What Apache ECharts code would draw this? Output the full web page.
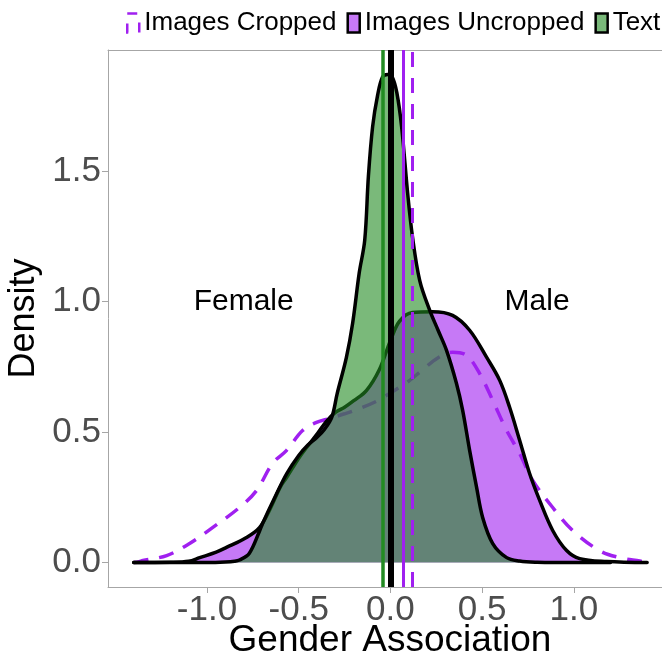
<!DOCTYPE html>
<html>
<head>
<meta charset="utf-8">
<script src="https://cdn.jsdelivr.net/npm/echarts@6/dist/echarts.min.js"></script>
<style>
  html, body { margin: 0; padding: 0; background: #fff; overflow: hidden; }
  #chart { width: 662px; height: 658px; }
</style>
</head>
<body>
<div id="chart"></div>
<script>
// Kernel density estimates of gender association scores, [score, density]
const imagesCropped = [
  [-1.40, 0.000], [-1.37, 0.003], [-1.35, 0.008], [-1.22, 0.027], [-1.095, 0.073],
  [-0.97, 0.134], [-0.823, 0.211], [-0.73, 0.276], [-0.643, 0.38], [-0.566, 0.43],
  [-0.479, 0.506], [-0.403, 0.537], [-0.332, 0.552], [-0.25, 0.57], [-0.168, 0.59],
  [-0.07, 0.62], [0.0, 0.65], [0.09, 0.69], [0.17, 0.735], [0.26, 0.785],
  [0.339, 0.806], [0.415, 0.794], [0.486, 0.725], [0.558, 0.621], [0.634, 0.506],
  [0.705, 0.418], [0.776, 0.315], [0.885, 0.211], [0.994, 0.123], [1.14, 0.046],
  [1.25, 0.019], [1.36, 0.006], [1.41, 0.000]
];
const imagesUncropped = [
  [-1.40, 0.000], [-1.2, 0.001], [-1.1, 0.005], [-1.04, 0.019], [-0.95, 0.040],
  [-0.894, 0.058], [-0.785, 0.096], [-0.714, 0.134], [-0.66, 0.20], [-0.60, 0.29],
  [-0.566, 0.326], [-0.50, 0.40], [-0.457, 0.441], [-0.397, 0.495], [-0.35, 0.54],
  [-0.30, 0.575], [-0.25, 0.595], [-0.20, 0.62], [-0.13, 0.66], [-0.06, 0.74],
  [0.0, 0.85], [0.05, 0.925], [0.12, 0.958], [0.23, 0.961], [0.339, 0.947],
  [0.432, 0.890], [0.525, 0.786], [0.596, 0.698], [0.65, 0.595], [0.705, 0.468],
  [0.759, 0.341], [0.814, 0.238], [0.885, 0.123], [0.961, 0.046], [1.032, 0.015],
  [1.18, 0.004], [1.40, 0.000]
];
const text = [
  [-1.40, 0.000], [-1.0, 0.000], [-0.9, 0.002], [-0.85, 0.005], [-0.823, 0.01],
  [-0.77, 0.035], [-0.714, 0.12], [-0.697, 0.15], [-0.63, 0.25], [-0.566, 0.34],
  [-0.50, 0.41], [-0.45, 0.45], [-0.40, 0.48], [-0.36, 0.51], [-0.32, 0.556],
  [-0.29, 0.648], [-0.24, 0.786], [-0.206, 0.917], [-0.17, 1.11], [-0.14, 1.235],
  [-0.12, 1.48], [-0.097, 1.67], [-0.07, 1.79], [-0.043, 1.86], [-0.015, 1.87],
  [0.01, 1.86], [0.035, 1.80], [0.061, 1.67], [0.094, 1.415], [0.12, 1.25],
  [0.16, 1.08], [0.214, 0.967], [0.26, 0.89], [0.306, 0.813], [0.36, 0.687],
  [0.394, 0.583], [0.432, 0.43], [0.47, 0.288], [0.503, 0.173], [0.558, 0.073],
  [0.634, 0.019], [0.705, 0.006], [0.8, 0.001], [0.9, 0.000], [1.2, 0.000]
];

// Mean scores: reference line at zero plus the group means
const meanLines = [
  { name: 'zero', x: 0.0, color: '#000000', width: 6, type: 'solid' },
  { name: 'Text', x: -0.037, color: '#228B22', width: 3.5, type: 'solid' },
  { name: 'Images Uncropped', x: 0.068, color: '#A020F0', width: 3, type: 'solid' },
  { name: 'Images Cropped', x: 0.121, color: '#A020F0', width: 3, type: [15, 11] }
];

const xTicks = [-1.0, -0.5, 0.0, 0.5, 1.0];
const yTicks = [0.0, 0.5, 1.0, 1.5];

const regionLabels = [
  { label: 'Female', x: -0.8, y: 1.0 },
  { label: 'Male', x: 0.8, y: 1.0 }
];

const FONT = '"Liberation Sans", Arial, sans-serif';
const PURPLE = '#A020F0';
const GREEN = '#228B22';
const FRAME = '#a6a6a6';
const X_RANGE = { min: -1.54, max: 1.481 };

const chart = echarts.init(document.getElementById('chart'), null, { renderer: 'canvas' });

const option = {
  backgroundColor: '#ffffff',
  animation: false,
  textStyle: { fontFamily: FONT },
  legend: {
    top: 10,
    left: 126,
    width: 600,
    padding: 0,
    itemWidth: 12,
    itemHeight: 19,
    itemGap: 10,
    selectedMode: false,
    textStyle: { fontSize: 26, color: '#000', fontFamily: FONT },
    data: [
      { name: 'Images Cropped', icon: 'rect',
        itemStyle: { color: '#ffffff', borderColor: PURPLE, borderWidth: 2.5,
                     borderType: [10, 11], borderDashOffset: 0 } },
      { name: 'Images Uncropped', icon: 'rect',
        itemStyle: { color: 'rgba(160,32,240,0.6)', borderColor: '#000', borderWidth: 2.5 } },
      { name: 'Text', icon: 'rect',
        itemStyle: { color: 'rgba(34,139,34,0.6)', borderColor: '#000', borderWidth: 2.5 } }
    ]
  },
  grid: {
    left: 108, right: 0, top: 50, bottom: 71,
    outerBoundsMode: 'none',
    containLabel: false,
    show: false
  },
  xAxis: [
    {
      type: 'value',
      position: 'bottom',
      min: X_RANGE.min, max: X_RANGE.max,
      name: 'Gender Association',
      nameLocation: 'middle',
      nameGap: 35,
      nameMoveOverlap: false,
      nameTextStyle: { fontSize: 37, color: '#000', fontFamily: FONT, padding: [0, 0, 0, 10] },
      axisLine: { show: true, onZero: false, lineStyle: { color: FRAME, width: 1 } },
      axisTick: { show: true, length: 6, customValues: xTicks, lineStyle: { color: FRAME } },
      axisLabel: {
        customValues: xTicks, fontSize: 35, color: '#4d4d4d', margin: 6, fontFamily: FONT,
        formatter: v => v.toFixed(1)
      },
      splitLine: { show: false }
    },
    {
      // top edge of the panel frame
      type: 'value',
      position: 'top',
      min: X_RANGE.min, max: X_RANGE.max,
      axisLine: { show: true, onZero: false, lineStyle: { color: FRAME, width: 1 } },
      axisTick: { show: false },
      axisLabel: { show: false },
      splitLine: { show: false }
    }
  ],
  yAxis: {
    type: 'value',
    min: -0.0935, max: 1.9635,
    name: 'Density',
    nameLocation: 'middle',
    nameGap: 66,
    nameMoveOverlap: false,
    nameTextStyle: { fontSize: 36, color: '#000', fontFamily: FONT },
    axisLine: { show: true, onZero: false, lineStyle: { color: FRAME, width: 1 } },
    axisTick: { show: true, length: 6, customValues: yTicks, lineStyle: { color: FRAME } },
    axisLabel: {
      customValues: yTicks, fontSize: 35, color: '#4d4d4d', margin: 7, fontFamily: FONT,
      formatter: v => v.toFixed(1)
    },
    splitLine: { show: false }
  },
  series: [
    {
      name: 'Images Cropped',
      type: 'line',
      data: imagesCropped,
      z: 1,
      showSymbol: false,
      symbol: 'none',
      smooth: 0.35,
      silent: true,
      lineStyle: { color: PURPLE, width: 3.5, type: [15, 11], cap: 'butt' },
      itemStyle: { color: PURPLE }
    },
    {
      name: 'Images Uncropped',
      type: 'line',
      data: imagesUncropped,
      z: 2,
      showSymbol: false,
      symbol: 'none',
      smooth: 0.35,
      silent: true,
      lineStyle: { color: '#000', width: 3.5, cap: 'round', join: 'round' },
      areaStyle: { color: PURPLE, opacity: 0.6 },
      itemStyle: { color: PURPLE }
    },
    {
      name: 'Text',
      type: 'line',
      data: text,
      z: 3,
      showSymbol: false,
      symbol: 'none',
      smooth: 0.35,
      silent: true,
      lineStyle: { color: '#000', width: 3.5, cap: 'round', join: 'round' },
      areaStyle: { color: GREEN, opacity: 0.6 },
      itemStyle: { color: GREEN }
    },
    {
      name: 'means',
      type: 'line',
      data: [],
      z: 4,
      silent: true,
      markLine: {
        silent: true,
        symbol: ['none', 'none'],
        label: { show: false },
        animation: false,
        data: meanLines.map(m => ({
          xAxis: m.x,
          lineStyle: { color: m.color, width: m.width, type: m.type }
        }))
      }
    },
    {
      name: 'regions',
      type: 'scatter',
      z: 5,
      silent: true,
      symbolSize: 0,
      itemStyle: { opacity: 1 },
      data: regionLabels.map(r => ({ value: [r.x, r.y], name: r.label })),
      label: {
        show: true,
        position: 'inside',
        formatter: p => p.name,
        fontSize: 30,
        color: '#000000',
        opacity: 1,
        fontFamily: FONT
      }
    }
  ]
};

chart.setOption(option);
</script>
</body>
</html>
